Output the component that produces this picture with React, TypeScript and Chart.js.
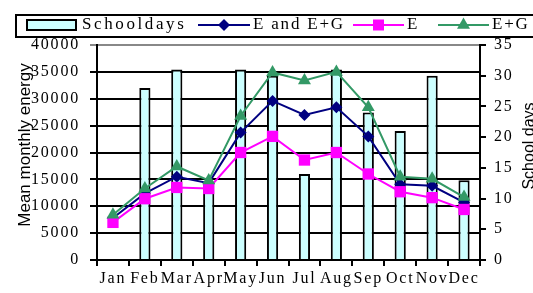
import React, { useEffect, useRef } from 'react';
import Chart from 'chart.js/auto';

const months = ['Jan', 'Feb', 'Mar', 'Apr', 'May', 'Jun', 'Jul', 'Aug', 'Sep', 'Oct', 'Nov', 'Dec'];
const schoolDays = [0, 28, 31, 12.5, 31, 30, 14, 31, 24, 21, 30, 13];
const eAndEG = [7800, 12400, 15500, 14300, 23700, 29600, 27000, 28400, 23000, 14100, 13800, 10700];
const eOnly = [7000, 11400, 13500, 13300, 20000, 23000, 18600, 20000, 16000, 12700, 11600, 9400];
const egOnly = [8400, 13300, 17400, 14800, 26800, 34900, 33400, 35000, 28400, 15500, 15100, 11700];
const leftTitle = 'Mean monthly energy';
const rightTitle = 'School days';

const SERIF = "'Liberation Serif', 'Times New Roman', serif";
const SANS = "'Liberation Sans', Arial, sans-serif";

const NAVY = '#000080';
const MAGENTA = '#ff00ff';
const GREEN = '#339966';
const BAR = '#ccffff';

function drawMarker(ctx: CanvasRenderingContext2D, style: string, x: number, y: number, color: string) {
  ctx.fillStyle = color;
  ctx.beginPath();
  if (style === 'rectRot') {
    const r = 6;
    ctx.moveTo(x, y - r); ctx.lineTo(x + r, y); ctx.lineTo(x, y + r); ctx.lineTo(x - r, y);
  } else if (style === 'rect') {
    const s = 5.5;
    ctx.rect(x - s, y - s, 2 * s, 2 * s);
  } else if (style === 'triangle') {
    const r = 7.5;
    ctx.moveTo(x, y - r);
    ctx.lineTo(x + r * Math.sin(Math.PI * 2 / 3), y - r * Math.cos(Math.PI * 2 / 3));
    ctx.lineTo(x - r * Math.sin(Math.PI * 2 / 3), y - r * Math.cos(Math.PI * 2 / 3));
  }
  ctx.closePath();
  ctx.fill();
}

const decorPlugin = {
  id: 'decor',
  beforeDraw(chart: any) {
    (chart.ctx as any).letterSpacing = '1.8px';
  },
  afterDraw(chart: any) {
    const ctx: CanvasRenderingContext2D = chart.ctx;
    const ds = chart.data.datasets;
    ctx.save();
    // legend frame
    ctx.fillStyle = '#fff';
    ctx.fillRect(16, 15, 540, 22);
    ctx.lineWidth = 2;
    ctx.strokeStyle = '#000';
    ctx.strokeRect(16, 15, 540, 22);
    (ctx as any).letterSpacing = '2.6px';
    ctx.font = `17px ${SERIF}`;
    ctx.textBaseline = 'alphabetic';
    ctx.textAlign = 'left';
    // item 0: bars
    ctx.fillStyle = BAR;
    ctx.fillRect(27, 20, 49, 10);
    ctx.strokeRect(27, 20, 49, 10);
    ctx.fillStyle = '#000';
    ctx.fillText(ds[0].label, 82, 29);
    (ctx as any).letterSpacing = '1.8px';
    const items = [
      { i: 1, x0: 198, x1: 250, tx: 253 },
      { i: 2, x0: 353, x1: 404, tx: 407 },
      { i: 3, x0: 438, x1: 489, tx: 492 },
    ];
    for (const it of items) {
      const d = ds[it.i];
      ctx.strokeStyle = d.borderColor;
      ctx.lineWidth = 2;
      ctx.beginPath();
      ctx.moveTo(it.x0, 25);
      ctx.lineTo(it.x1, 25);
      ctx.stroke();
      drawMarker(ctx, d.pointStyle, (it.x0 + it.x1) / 2, 25, d.borderColor);
      ctx.fillStyle = '#000';
      ctx.fillText(d.label, it.tx, 29);
    }
    // axis titles
    (ctx as any).letterSpacing = '0px';
    ctx.font = `17px ${SANS}`;
    ctx.fillStyle = '#000';
    ctx.textAlign = 'center';
    ctx.save();
    ctx.translate(30, 145);
    ctx.rotate(-Math.PI / 2);
    ctx.fillText(leftTitle, 0, 0);
    ctx.restore();
    ctx.save();
    ctx.font = `16px ${SANS}`;
    ctx.translate(534, 146);
    ctx.rotate(-Math.PI / 2);
    ctx.fillText(rightTitle, 0, 0);
    ctx.restore();
    ctx.restore();
  },
};

export default function App() {
  const ref = useRef<HTMLCanvasElement>(null);
  useEffect(() => {
    if (!ref.current) return;
    const chart = new Chart(ref.current, {
      type: 'bar',
      data: {
        labels: months,
        datasets: [
          {
            type: 'bar',
            label: 'Schooldays',
            data: schoolDays,
            yAxisID: 'y1',
            backgroundColor: BAR,
            borderColor: '#000',
            borderWidth: 2,
            barPercentage: 0.35,
            categoryPercentage: 1,
            order: 3,
          } as any,
          {
            type: 'line',
            label: 'E and E+G',
            data: eAndEG,
            yAxisID: 'y',
            borderColor: NAVY,
            backgroundColor: NAVY,
            borderWidth: 2,
            pointStyle: 'rectRot',
            pointRadius: 6,
            pointBorderWidth: 0,
            order: 2,
          },
          {
            type: 'line',
            label: 'E',
            data: eOnly,
            yAxisID: 'y',
            borderColor: MAGENTA,
            backgroundColor: MAGENTA,
            borderWidth: 2,
            pointStyle: 'rect',
            pointRadius: 8,
            pointBorderWidth: 0,
            order: 1,
          },
          {
            type: 'line',
            label: 'E+G',
            data: egOnly,
            yAxisID: 'y',
            borderColor: GREEN,
            backgroundColor: GREEN,
            borderWidth: 2,
            pointStyle: 'triangle',
            pointRadius: 7.5,
            pointBorderWidth: 0,
            order: 0,
          },
        ],
      },
      options: {
        responsive: false,
        animation: false,
        layout: { padding: { top: 45, left: 0, right: 0, bottom: 0 } },
        plugins: { legend: { display: false }, tooltip: { enabled: false } },
        scales: {
          x: {
            offset: true,
            afterFit: (s: any) => { s.height = 33; },
            grid: { offset: true, drawOnChartArea: false, drawTicks: true, tickLength: 6, color: '#000', lineWidth: 2 },
            border: { color: '#000', width: 2 },
            ticks: { color: '#000', font: { family: SERIF, size: 16 }, padding: 3, maxRotation: 0, autoSkip: false },
          },
          y: {
            position: 'left',
            min: 0,
            max: 40000,
            afterFit: (s: any) => { s.width = 97; },
            grid: {
              color: (c: any) => (c.tick && c.tick.value === 40000 ? '#888' : '#000'),
              lineWidth: 2,
              tickLength: 7,
            },
            border: { color: '#000', width: 2 },
            ticks: {
              stepSize: 5000,
              color: '#000',
              padding: 10,
              font: { family: SERIF, size: 16 },
              callback: (v: any) => String(v),
            },
          },
          y1: {
            position: 'right',
            min: 0,
            max: 35,
            afterFit: (s: any) => { s.width = 53; },
            grid: { drawOnChartArea: false, tickLength: 6, color: '#000', lineWidth: 2 },
            border: { color: '#000', width: 2 },
            ticks: {
              stepSize: 5,
              color: '#000',
              padding: 8,
              font: { family: SERIF, size: 16 },
            },
          },
        },
      } as any,
      plugins: [decorPlugin],
    });
    return () => chart.destroy();
  }, []);
  return (
    <div style={{ position: 'absolute', left: 0, top: 0, width: 533, height: 293 }}>
      <canvas ref={ref} width={533} height={293} style={{ width: 533, height: 293 }} />
    </div>
  );
}
